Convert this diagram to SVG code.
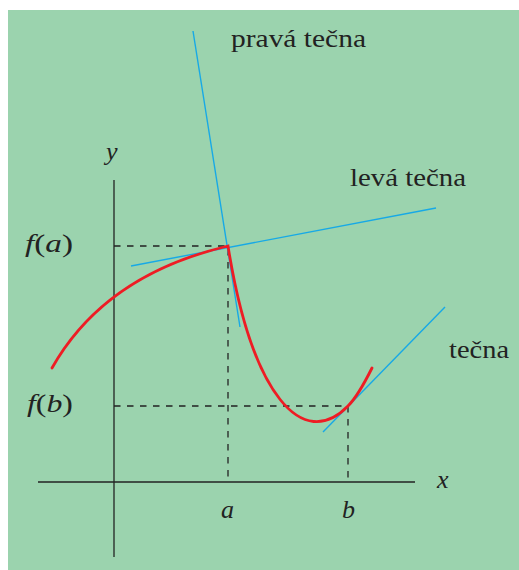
<svg xmlns="http://www.w3.org/2000/svg" width="519" height="570" viewBox="0 0 519 570">
<style>
.bg{fill:#9bd3ae}
.axis{stroke:#222;stroke-width:1.3;fill:none}
.dash{stroke:#222;stroke-width:1.3;fill:none;stroke-dasharray:6.5 6.5}
.tan{stroke:#17a9e6;stroke-width:1.4;fill:none}
.curve{stroke:#ee1c24;stroke-width:2.8;fill:none;stroke-linecap:round}
.lbl{font-family:"Liberation Serif",serif;font-size:26px;fill:#222}
.math{font-family:"Liberation Serif",serif;font-size:26px;font-style:italic;fill:#222}
.up{font-style:normal}
</style>
<rect class="bg" x="8" y="10" width="511" height="560"/>
<g id="connectors">
<line class="axis" x1="114" y1="180" x2="114" y2="557"/>
<line class="axis" x1="38" y1="482" x2="415" y2="482"/>
<polyline class="dash" points="114,246 228,246 228,482"/>
<polyline class="dash" points="114,406 348,406 348,482"/>
<line class="tan" x1="193" y1="31" x2="240" y2="327"/>
<line class="tan" x1="131" y1="266" x2="436" y2="208"/>
<line class="tan" x1="323" y1="432" x2="445" y2="307"/>
<path class="curve" d="M52,368 C78,322 126,270 228,246 C252,396 303,452 348,406 C358,396 366,380 372,368"/>
</g>
<g id="label-prava"><text class="lbl" x="231" y="47" textLength="135" lengthAdjust="spacingAndGlyphs">pravá tečna</text></g>
<g id="label-leva"><text class="lbl" x="350" y="186" textLength="116" lengthAdjust="spacingAndGlyphs">levá tečna</text></g>
<g id="label-tecna"><text class="lbl" x="449" y="358" textLength="60" lengthAdjust="spacingAndGlyphs">tečna</text></g>
<g id="label-y"><text class="math" x="106" y="160">y</text></g>
<g id="label-x"><text class="math" x="437" y="488">x</text></g>
<g id="label-a"><text class="math" x="221" y="518">a</text></g>
<g id="label-b"><text class="math" x="342" y="518">b</text></g>
<g id="label-fa"><text class="math" x="25" y="252" textLength="48" lengthAdjust="spacingAndGlyphs">f<tspan class="up">(</tspan>a<tspan class="up">)</tspan></text></g>
<g id="label-fb"><text class="math" x="27" y="412" textLength="46" lengthAdjust="spacingAndGlyphs">f<tspan class="up">(</tspan>b<tspan class="up">)</tspan></text></g>
</svg>
